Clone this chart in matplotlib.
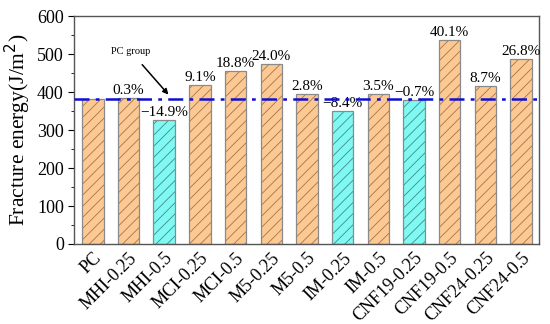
import numpy as np
import matplotlib.pyplot as plt

plt.rcParams['font.family'] = ['Liberation Serif', 'DejaVu Serif']
plt.rcParams['hatch.linewidth'] = 0.6

groups = ["PC", "MHI-0.25", "MHI-0.5", "MCI-0.25", "MCI-0.5", "M5-0.25", "M5-0.5",
          "IM-0.25", "IM-0.5", "CNF19-0.25", "CNF19-0.5", "CNF24-0.25", "CNF24-0.5"]
energy = [383, 384, 326, 418, 455, 475, 394, 351, 396, 380, 537, 416, 486]
change = ["", "0.3%", "\u221214.9%", "9.1%", "18.8%", "24.0%", "2.8%",
          "\u22128.4%", "3.5%", "\u22120.7%", "40.1%", "8.7%", "26.8%"]
pc_level = 383

orange = "#fdc993"
cyan = "#7ff9f2"

fig, ax = plt.subplots(figsize=(5.5, 3.24), dpi=100)
fig.subplots_adjust(left=0.135, right=0.98, top=0.95, bottom=0.247)

x = np.arange(len(groups))
low = [energy[i] < pc_level for i in range(len(groups))]
colors = [cyan if l else orange for l in low]
bars = ax.bar(x, energy, width=0.6, color=colors, edgecolor="#8a8a8a",
              linewidth=0.9, hatch="///", zorder=2)
for b, l in zip(bars, low):
    b._hatch_color = (0.25, 0.55, 0.55, 1.0) if l else (0.65, 0.45, 0.3, 1.0)

for i in range(len(groups)):
    if change[i]:
        ax.text(x[i], energy[i] + 3, change[i], ha="center", va="bottom",
                fontsize=11, zorder=3)

ax.axhline(pc_level, color="#1010d0", lw=1.8, ls=(0, (6, 2.5, 1.5, 2.5)), zorder=4)

ax.annotate("PC group", xy=(2.17, 388), xytext=(1.05, 508), fontsize=7.5,
            ha="center", va="center",
            arrowprops=dict(arrowstyle="-|>", color="black", lw=1.1,
                            shrinkA=6, mutation_scale=8))

ax.set_xlim(-0.52, 12.5)
ax.set_ylim(0, 600)
ax.set_yticks(np.arange(0, 601, 100))
ax.set_yticks(np.arange(50, 600, 100), minor=True)
ax.set_xticks(x)
ax.set_xticklabels(groups, rotation=45, ha="right", rotation_mode="anchor", fontsize=13)
ax.tick_params(axis="x", length=0, pad=4)
ax.tick_params(axis="y", labelsize=13, direction="out", length=4)
ax.tick_params(axis="y", which="minor", direction="out", length=2.5)
ax.set_ylabel("Fracture energy(J/m$^2$)", fontsize=15.5, labelpad=3)
for s in ax.spines.values():
    s.set_color("#555555")
    s.set_linewidth(1.0)

fig.savefig("out.png", dpi=100)
